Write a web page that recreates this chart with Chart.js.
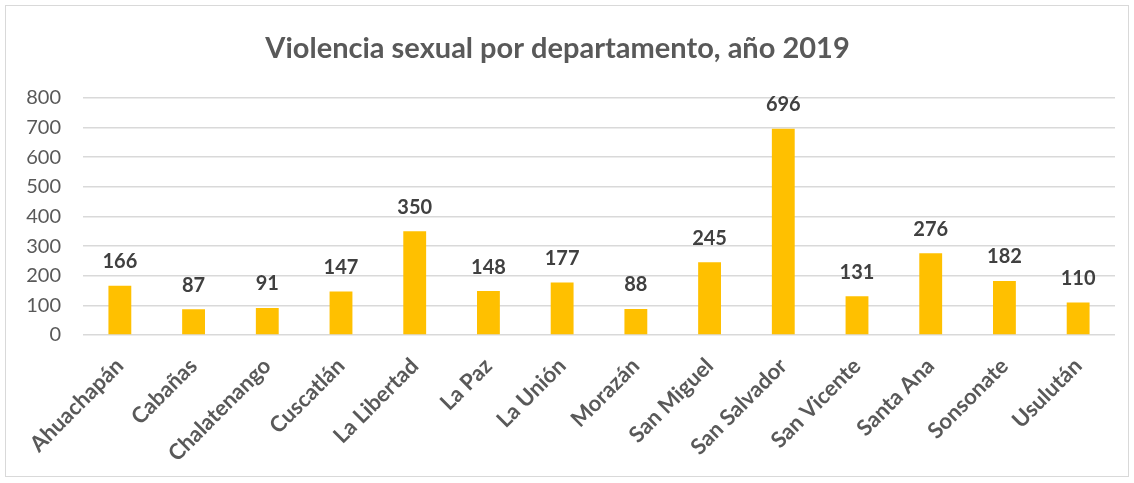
<!DOCTYPE html>
<html>
<head>
<meta charset="utf-8">
<script src="https://cdn.jsdelivr.net/npm/chart.js@4"></script>
<style>
html,body{margin:0;padding:0;background:#fff;}
#wrap{position:relative;width:1134px;height:483px;}
#frame{position:absolute;left:5px;top:5px;width:1124px;height:472px;border:1px solid #d9d9d9;box-sizing:border-box;}
canvas{position:absolute;left:0;top:0;}
</style>
</head>
<body>
<div id="wrap"><div id="frame"></div><canvas id="c" width="1134" height="483"></canvas></div>
<script>
const titleText = "Violencia sexual por departamento, año 2019";
const categories = ["Ahuachapán","Cabañas","Chalatenango","Cuscatlán","La Libertad","La Paz","La Unión","Morazán","San Miguel","San Salvador","San Vicente","Santa Ana","Sonsonate","Usulután"];
const values = [166,87,91,147,350,148,177,88,245,696,131,276,182,110];
const yTicks = [0,100,200,300,400,500,600,700,800];

const FONT = "Lato, 'Liberation Sans', sans-serif";

const labelPlugin = {
  id: 'valueLabels',
  afterDatasetsDraw(chart) {
    const ctx = chart.ctx;
    const meta = chart.getDatasetMeta(0);
    ctx.save();
    ctx.font = "bold 20px " + FONT;
    ctx.fillStyle = "#404040";
    ctx.textAlign = "center";
    ctx.textBaseline = "middle";
    meta.data.forEach((bar, i) => {
      ctx.fillText(String(values[i]), bar.x, bar.y - 24);
    });
    ctx.restore();
  }
};

new Chart(document.getElementById('c'), {
  type: 'bar',
  data: {
    labels: categories,
    datasets: [{
      data: values,
      backgroundColor: '#FFC000',
      borderWidth: 0,
      categoryPercentage: 1,
      barPercentage: 0.31
    }]
  },
  options: {
    responsive: false,
    animation: false,
    layout: { padding: { left: 0, right: 19, top: 0, bottom: 0 } },
    plugins: {
      legend: { display: false },
      tooltip: { enabled: false },
      title: {
        display: true,
        text: titleText,
        color: '#595959',
        font: { family: FONT, size: 29, weight: 'bold' },
        padding: { top: 31, bottom: 32 }
      }
    },
    scales: {
      y: {
        min: 0, max: 800,
        afterBuildTicks(axis) { axis.ticks = yTicks.map(v => ({ value: v })); },
        afterFit(axis) { axis.width = 83; },
        border: { display: false },
        grid: { color: '#d9d9d9', lineWidth: 1.5, drawTicks: false },
        ticks: {
          color: '#595959',
          padding: 22,
          font: { family: FONT, size: 20 }
        }
      },
      x: {
        afterFit(axis) { axis.height = 483 - 335; },
        border: { display: false },
        grid: { display: false },
        ticks: {
          color: '#595959',
          minRotation: 45, maxRotation: 45,
          padding: 10,
          autoSkip: false,
          font: { family: FONT, size: 22, weight: 'bold' }
        }
      }
    }
  },
  plugins: [labelPlugin]
});
</script>
</body>
</html>
